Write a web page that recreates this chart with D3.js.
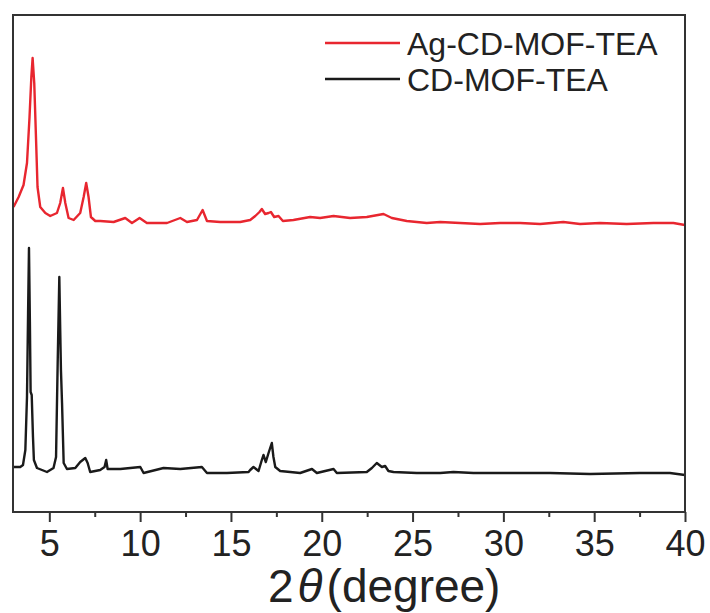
<!DOCTYPE html>
<html>
<head>
<meta charset="utf-8">
<script src="https://cdn.jsdelivr.net/npm/d3@7"></script>
<style>
  html, body { margin: 0; padding: 0; background: #fff; }
  svg { display: block; font-family: "Liberation Sans", Arial, sans-serif; }
</style>
</head>
<body>
<svg id="chart" width="710" height="613"></svg>
<script>
// Powder XRD patterns, [2θ (degree), intensity (a.u., stacked offset included)]
const agCdMofTea = [
  [3.03, 305], [3.31, 315], [3.58, 327], [3.77, 349], [3.91, 395], [4.01, 435],
  [4.08, 454], [4.17, 429], [4.27, 372], [4.35, 325], [4.50, 305], [4.78, 299],
  [5.05, 296], [5.42, 299], [5.60, 309], [5.75, 324], [5.88, 309], [6.06, 294],
  [6.34, 292], [6.70, 299], [6.89, 315], [7.03, 329], [7.16, 315], [7.29, 295],
  [7.53, 291], [7.80, 291], [8.54, 290], [9.18, 294], [9.55, 289], [9.97, 294],
  [10.37, 289], [11.48, 289], [12.21, 294], [12.58, 290], [13.13, 292], [13.44, 302],
  [13.68, 291], [14.41, 290], [15.51, 290], [16.06, 292], [16.34, 296], [16.57, 300],
  [16.70, 303], [16.88, 298], [17.07, 299], [17.20, 300], [17.38, 295], [17.62, 296],
  [17.86, 291], [18.44, 292], [19.36, 295], [19.91, 294], [20.65, 296], [21.56, 294],
  [22.48, 295], [23.40, 298], [23.86, 294], [24.68, 291], [25.78, 289], [26.52, 290],
  [27.62, 289], [28.72, 288], [29.82, 289], [30.92, 289], [32.02, 288], [33.30, 290],
  [34.22, 288], [35.32, 289], [36.79, 288], [38.26, 289], [39.36, 289], [40.0, 287]
];

const cdMofTea = [
  [3.03, 45], [3.40, 45], [3.55, 47], [3.68, 62], [3.77, 115], [3.83, 199],
  [3.88, 264], [3.93, 190], [3.97, 120], [4.03, 117], [4.10, 75], [4.15, 52],
  [4.32, 44], [4.87, 40], [5.23, 44], [5.37, 55], [5.46, 149], [5.55, 235],
  [5.60, 182], [5.64, 142], [5.70, 109], [5.79, 49], [5.97, 43], [6.43, 44],
  [6.70, 50], [6.98, 54], [7.11, 49], [7.25, 40], [7.80, 42], [8.04, 45],
  [8.13, 52], [8.21, 43], [8.91, 43], [10.01, 45], [10.19, 39], [11.29, 44],
  [12.21, 43], [13.40, 45], [13.68, 39], [14.78, 39], [15.97, 40], [16.06, 42],
  [16.24, 45], [16.52, 41], [16.70, 52], [16.79, 57], [16.92, 50], [17.07, 59],
  [17.25, 69], [17.34, 55], [17.44, 45], [17.71, 41], [18.81, 39], [19.46, 43],
  [19.73, 39], [20.65, 43], [20.83, 39], [22.48, 40], [22.76, 44], [23.03, 49],
  [23.31, 45], [23.49, 46], [23.67, 41], [23.95, 40], [25.23, 39], [26.52, 39],
  [27.25, 40], [28.35, 39], [30.19, 39], [32.57, 39], [34.77, 38], [37.52, 39],
  [39.17, 39], [40.0, 37]
];

const seriesNames = ["Ag-CD-MOF-TEA", "CD-MOF-TEA"];
const seriesColors = ["#e8262f", "#1a1a1a"];
const xMajorTicks = [5, 10, 15, 20, 25, 30, 35, 40];
const xMinorTicks = [7.5, 12.5, 17.5, 22.5, 27.5, 32.5, 37.5];
const xDomain = [3, 40];
const yDomain = [0, 497];

const svg = d3.select("#chart");
const plot = { left: 13, right: 685, top: 15, bottom: 512 };

const x = d3.scaleLinear().domain(xDomain).range([plot.left, plot.right]);
const y = d3.scaleLinear().domain(yDomain).range([plot.bottom, plot.top]);

// clip the patterns to the frame
svg.append("defs").append("clipPath").attr("id", "plotClip")
  .append("rect")
  .attr("x", plot.left).attr("y", plot.top)
  .attr("width", plot.right - plot.left).attr("height", plot.bottom - plot.top);

const line = d3.line().x(d => x(d[0])).y(d => y(d[1]));

const patterns = [agCdMofTea, cdMofTea];
svg.append("g").attr("clip-path", "url(#plotClip)")
  .selectAll("path").data(patterns).join("path")
  .attr("d", line)
  .attr("fill", "none")
  .attr("stroke", (d, i) => seriesColors[i])
  .attr("stroke-width", 2.4)
  .attr("stroke-linejoin", "round");

// frame
svg.append("rect")
  .attr("x", plot.left).attr("y", plot.top)
  .attr("width", plot.right - plot.left).attr("height", plot.bottom - plot.top)
  .attr("fill", "none").attr("stroke", "#333").attr("stroke-width", 2);

// bottom axis: major ticks with labels, minor ticks without
const xAxis = d3.axisBottom(x).tickValues(xMajorTicks).tickSize(10).tickPadding(8)
  .tickFormat(d3.format("d"));
const gx = svg.append("g").attr("transform", `translate(0,${plot.bottom})`).call(xAxis);
gx.select(".domain").remove();
gx.selectAll(".tick line").attr("stroke", "#333").attr("stroke-width", 2);
gx.selectAll(".tick text").attr("font-size", 36).attr("fill", "#222")
  .attr("font-family", "'Liberation Sans', Arial, sans-serif");

const xAxisMinor = d3.axisBottom(x).tickValues(xMinorTicks).tickSize(5).tickFormat("");
const gm = svg.append("g").attr("transform", `translate(0,${plot.bottom})`).call(xAxisMinor);
gm.select(".domain").remove();
gm.selectAll(".tick line").attr("stroke", "#333").attr("stroke-width", 2);

// axis title
const title = svg.append("text")
  .attr("x", 268).attr("y", 602)
  .attr("font-size", 46).attr("fill", "#222");
title.append("tspan").text("2");
title.append("tspan").attr("dx", 4).attr("font-style", "italic").text("θ");
title.append("tspan").attr("dx", 4).text("(degree)");

// legend
const legend = svg.append("g");
const legendRows = seriesNames.map((name, i) => ({ name, color: seriesColors[i], i }));
const rowY = [43, 79];
legend.selectAll("line").data(legendRows).join("line")
  .attr("x1", 325).attr("x2", 400)
  .attr("y1", d => rowY[d.i]).attr("y2", d => rowY[d.i])
  .attr("stroke", d => d.color).attr("stroke-width", 2.5);
legend.selectAll("text").data(legendRows).join("text")
  .attr("x", 407).attr("y", d => rowY[d.i] + 12)
  .attr("font-size", 32).attr("fill", "#222")
  .text(d => d.name);
</script>
</body>
</html>
